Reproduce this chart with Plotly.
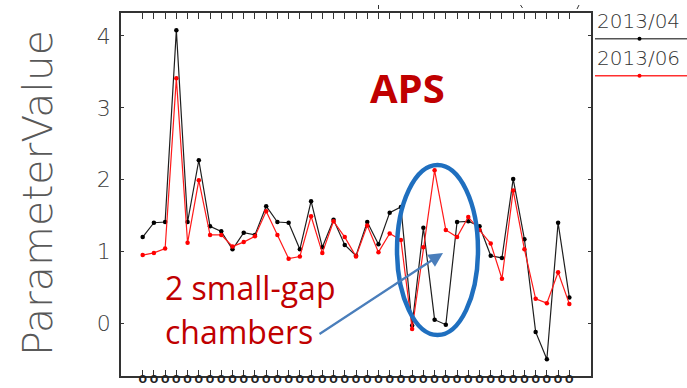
import plotly.graph_objects as go

# ---- data ----
chambers = list(range(1, 40))
tick_labels = ["O"] * len(chambers)
series_0404 = [1.20, 1.40, 1.41, 4.08, 1.41, 2.27, 1.35, 1.28, 1.03, 1.26, 1.23, 1.63, 1.41,
               1.40, 1.03, 1.70, 1.06, 1.44, 1.09, 0.94, 1.41, 1.10, 1.54, 1.62, -0.03, 1.33,
               0.05, -0.02, 1.41, 1.42, 1.35, 0.94, 0.91, 2.01, 1.17, -0.12, -0.50, 1.40, 0.36]
series_0406 = [0.95, 0.98, 1.04, 3.41, 1.12, 1.99, 1.23, 1.23, 1.07, 1.13, 1.21, 1.56, 1.23,
               0.90, 0.93, 1.49, 0.98, 1.42, 1.20, 0.93, 1.36, 0.99, 1.25, 1.16, -0.08, 1.06,
               2.13, 1.30, 1.20, 1.48, 1.30, 1.11, 0.62, 1.85, 1.03, 0.34, 0.28, 0.71, 0.27]
y_ticks = [0, 1, 2, 3, 4]
series_names = ["2013/04", "2013/06"]

# ---- geometry helpers (pixel -> paper) ----
W, H = 687, 388
L, R, T, B = 121, 591, 13, 376


def px(x):
    return (x - L) / (R - L)


def py(y):
    return (B - y) / (B - T)


AX = "#333333"
THIN = "DejaVu Sans"

fig = go.Figure()
fig.add_trace(go.Scatter(x=chambers, y=series_0404, mode="lines+markers", name=series_names[0],
                         line=dict(color="#1e1e1e", width=1.2),
                         marker=dict(color="#000000", size=4.5)))
fig.add_trace(go.Scatter(x=chambers, y=series_0406, mode="lines+markers", name=series_names[1],
                         line=dict(color="#ff1a1a", width=1.2),
                         marker=dict(color="#ff0000", size=4.5)))

fig.update_layout(
    width=W, height=H,
    margin=dict(l=L, r=W - R, t=T, b=H - B, pad=0, autoexpand=False),
    paper_bgcolor="white", plot_bgcolor="white",
    showlegend=False,
    xaxis=dict(range=[-0.93, 40.93], tickmode="array", tickvals=chambers, ticktext=tick_labels,
               ticks="inside", ticklen=6, tickwidth=1.2, tickcolor=AX,
               showline=True, linecolor=AX, linewidth=1.5, mirror="ticks",
               showgrid=False, zeroline=False, automargin=False,
               tickfont=dict(family="DejaVu Sans", size=10, color="#222222", weight="bold"),
               ticklabelstandoff=-7),
    yaxis=dict(range=[-0.734, 4.32], tickmode="array", tickvals=y_ticks,
               ticks="inside", ticklen=3, tickwidth=1.2, tickcolor=AX,
               showline=True, linecolor=AX, linewidth=1.5, mirror="ticks",
               showgrid=False, zeroline=False, automargin=False,
               tickfont=dict(family=THIN, size=22, color="#404040", weight=200),
               ticklabelstandoff=4),
)

ann = []
# y-axis title
ann.append(dict(x=px(38), y=py(193), xref="paper", yref="paper", text="ParameterValue",
                textangle=-90, showarrow=False, xanchor="center", yanchor="middle",
                font=dict(family=THIN, size=41, color="#595959", weight=200)))
# APS label
ann.append(dict(x=px(407), y=py(88), xref="paper", yref="paper", text="<b>APS</b>",
                showarrow=False, xanchor="center", yanchor="middle",
                font=dict(family="Open Sans", size=40, color="#C00000")))
# small-gap note
ann.append(dict(x=px(163), y=py(287), xref="paper", yref="paper", text="2 small-gap",
                showarrow=False, xanchor="left", yanchor="middle",
                font=dict(family="Open Sans", size=32, color="#C00000")))
ann.append(dict(x=px(163), y=py(331), xref="paper", yref="paper", text="chambers",
                showarrow=False, xanchor="left", yanchor="middle",
                font=dict(family="Open Sans", size=32, color="#C00000")))
# arrow
ann.append(dict(x=px(443), y=py(253), xref="paper", yref="paper", text="",
                showarrow=True, ax=318 - 443, ay=335 - 253, axref="pixel", ayref="pixel",
                arrowhead=2, arrowsize=1.3, arrowwidth=2.2, arrowcolor="#4A7EBB"))
# legend texts
ann.append(dict(x=px(595), y=py(21), xref="paper", yref="paper", text=series_names[0],
                showarrow=False, xanchor="left", yanchor="middle",
                font=dict(family=THIN, size=20, color="#333333", weight=200)))
ann.append(dict(x=px(595), y=py(58), xref="paper", yref="paper", text=series_names[1],
                showarrow=False, xanchor="left", yanchor="middle",
                font=dict(family=THIN, size=20, color="#333333", weight=200)))
fig.update_layout(annotations=ann)

shapes = []
# highlight ellipse
shapes.append(dict(type="circle", xref="paper", yref="paper",
                   x0=px(397), x1=px(478), y0=py(335), y1=py(165),
                   line=dict(color="#1F6FBF", width=4.5)))
# legend samples
shapes.append(dict(type="line", xref="paper", yref="paper", x0=px(595), x1=px(687),
                   y0=py(38.7), y1=py(38.7), line=dict(color="#555555", width=1.5)))
shapes.append(dict(type="circle", xref="paper", yref="paper", x0=px(637.5), x1=px(641.5),
                   y0=py(40.7), y1=py(36.7), fillcolor="#000000", line=dict(width=0)))
shapes.append(dict(type="line", xref="paper", yref="paper", x0=px(595), x1=px(687),
                   y0=py(75.7), y1=py(75.7), line=dict(color="#ff3030", width=1.5)))
shapes.append(dict(type="circle", xref="paper", yref="paper", x0=px(637.5), x1=px(641.5),
                   y0=py(77.7), y1=py(73.7), fillcolor="#ff0000", line=dict(width=0)))
# small stray marks above the frame
shapes.append(dict(type="line", xref="paper", yref="paper", x0=px(378.5), x1=px(378.5),
                   y0=py(9), y1=py(5), line=dict(color=AX, width=1)))
shapes.append(dict(type="line", xref="paper", yref="paper", x0=px(520.5), x1=px(522.5),
                   y0=py(5), y1=py(8), line=dict(color=AX, width=1)))
shapes.append(dict(type="line", xref="paper", yref="paper", x0=px(577), x1=px(579),
                   y0=py(9), y1=py(5), line=dict(color=AX, width=1)))
fig.update_layout(shapes=shapes)

fig.write_html("out.html")
